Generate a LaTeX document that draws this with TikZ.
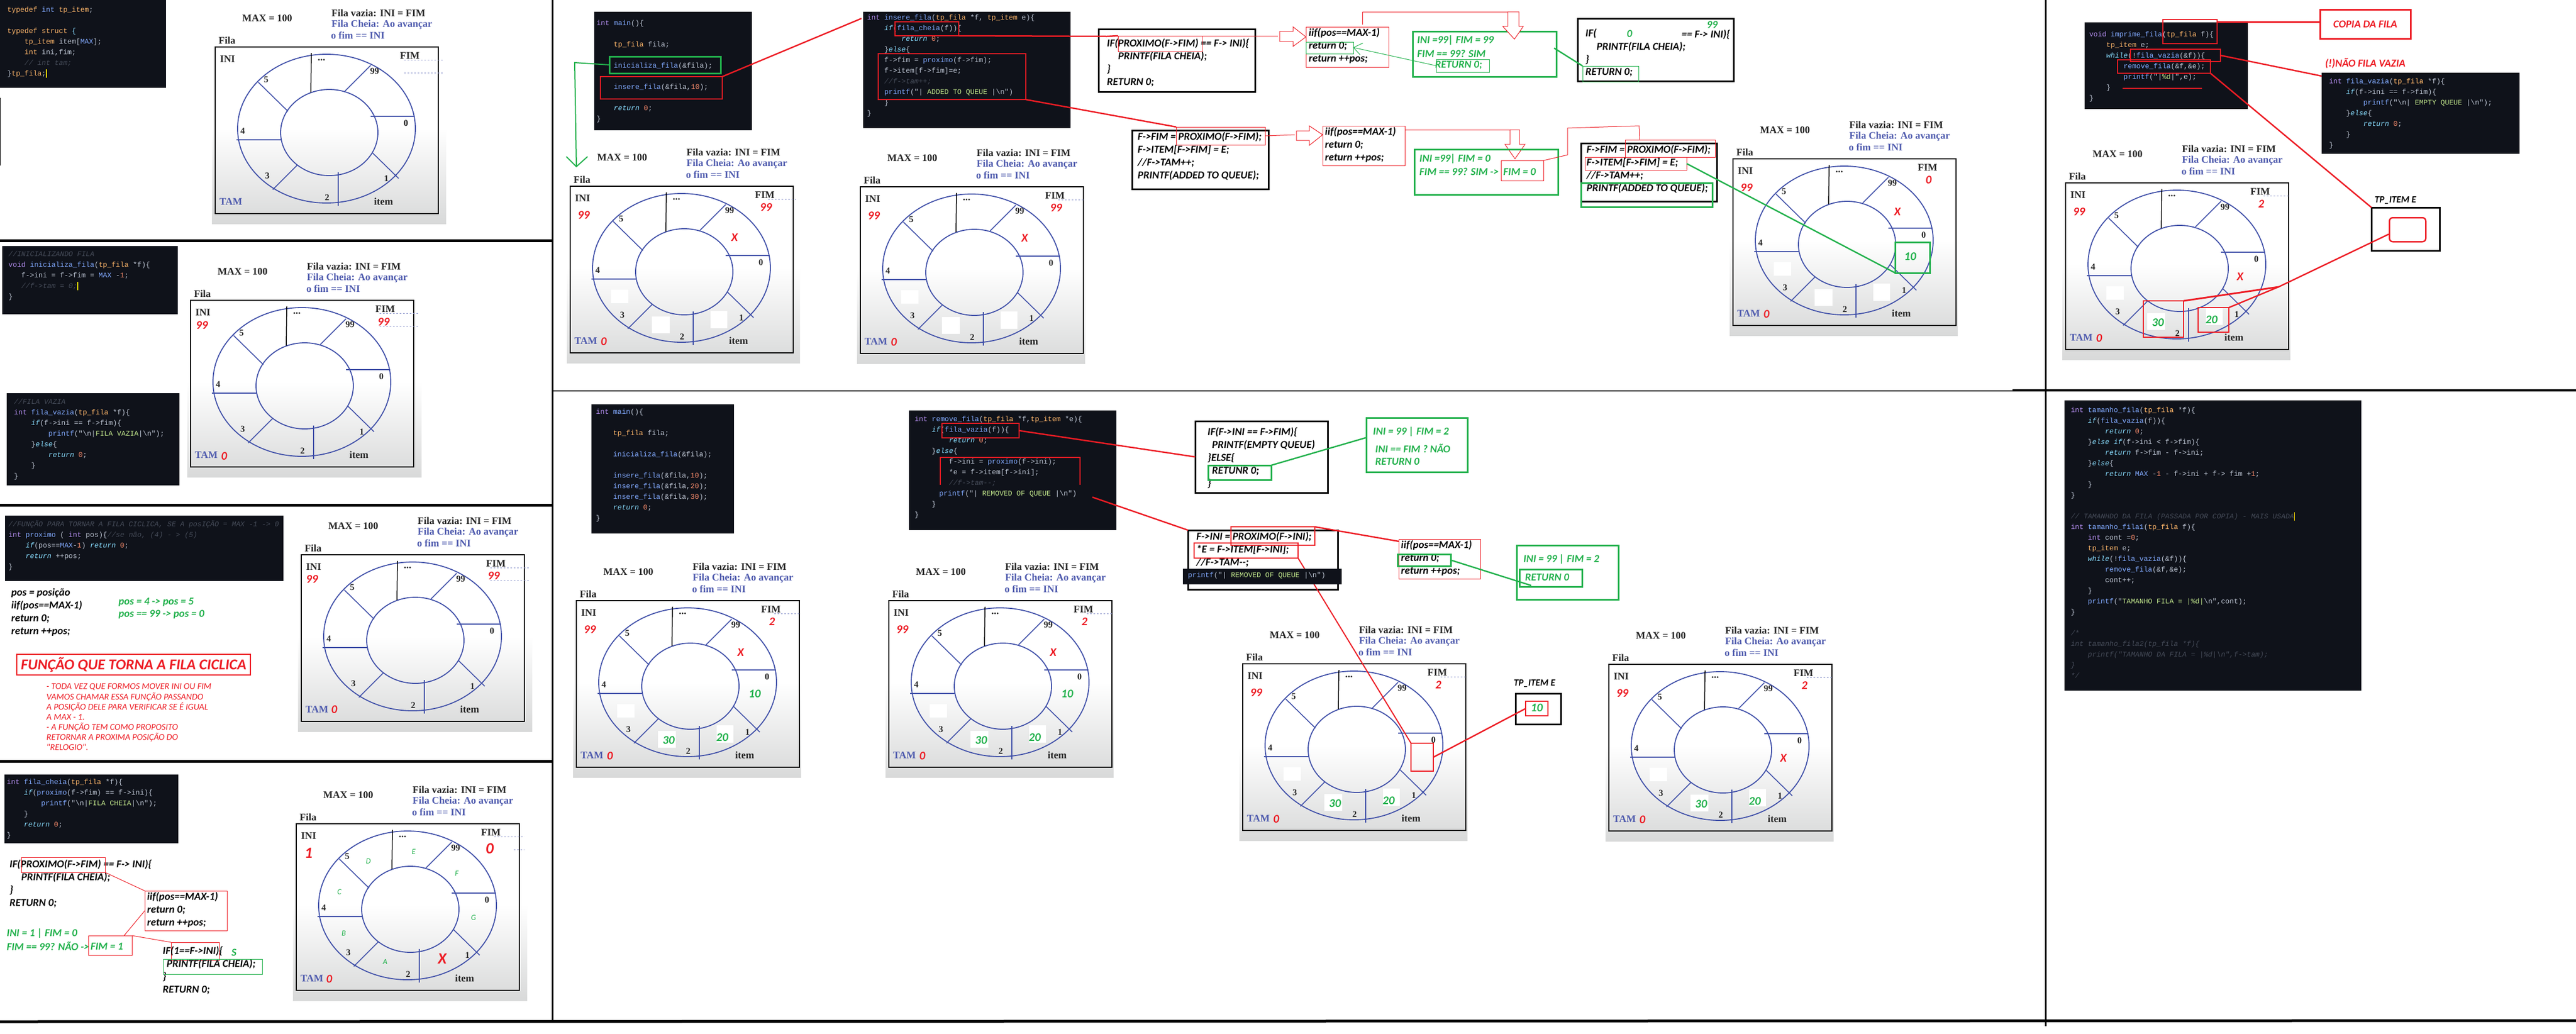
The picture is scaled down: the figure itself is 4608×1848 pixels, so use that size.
\documentclass[tikz,border=0pt]{standalone}
\usepackage{fontspec}
\newfontfamily\cmono{Liberation Mono}
\newfontfamily\calib{Carlito}
\newfontfamily\tims{Liberation Serif}
\usetikzlibrary{calc}

\definecolor{vermelho}{HTML}{ED1C24}
\definecolor{verde}{HTML}{22B14C}
\definecolor{anel}{HTML}{3F4FA8}
\definecolor{azult}{HTML}{4F5BAE}
\definecolor{fundoc}{HTML}{0F121A}
\definecolor{cinzap}{HTML}{D8D9D9}
\definecolor{cplainc}{HTML}{BFC7D5}
\definecolor{ckwc}{HTML}{B48EF0}
\definecolor{ctpc}{HTML}{FFB86B}
\definecolor{cfnc}{HTML}{82AAFF}
\definecolor{cctlc}{HTML}{89DDFF}
\definecolor{cstrc}{HTML}{C3E88D}
\definecolor{cnumc}{HTML}{F78C6C}
\definecolor{ccmtc}{HTML}{454B58}

\newcommand{\ckw}[1]{\textcolor{ckwc}{#1}}
\newcommand{\ctp}[1]{\textcolor{ctpc}{#1}}
\newcommand{\cfn}[1]{\textcolor{cfnc}{#1}}
\newcommand{\cctl}[1]{\textcolor{cctlc}{\itshape #1}}
\newcommand{\cstr}[1]{\textcolor{cstrc}{#1}}
\newcommand{\cnum}[1]{\textcolor{cnumc}{#1}}
\newcommand{\ccmt}[1]{\textcolor{ccmtc}{\itshape #1}}
\newcommand{\ccur}{\textcolor{yellow!80!orange}{\rule[-3pt]{1.5pt}{15pt}}}
\newcommand{\tb}{\hspace*{30.7pt}}

\newcommand{\caixa}[6]{\node[#2, minimum width={#5-#3}, minimum height={#6-#4}] at (#3,#4) (#1) {};}

\newcommand{\fila}[5]{%
	\begin{scope}[shift={(#2,#3)}]
	\shade[top color=white, bottom color=cinzap] (0,215) rectangle (#4,386);
	\node[rot] at (99,19) (#1max) {MAX = 100};
	\node[rot,anchor=west] at (214,9) (#1vazia) {Fila vazia: INI = FIM};
	\node[rot,anchor=west,text=azult] at (214,30) (#1cheia) {Fila Cheia: Ao avançar};
	\node[rot,anchor=west,text=azult] at (213,49) (#1ofim) {o fim == INI};
	\node[rot] at (27,58) (#1nome) {Fila};
	\draw[black,line width=1.6pt] (6,70) rectangle (405,368);
	\draw[anel,line width=1.8pt] (205,216) ellipse [x radius=159, y radius=133];
	\draw[anel,line width=1.8pt] (210,223) ellipse [x radius=87, y radius=77];
	\draw[black,line width=1.5pt] (178,81) -- (177,151);
	\foreach \xa/\ya/\xb/\yb in {284/103/238/149, 284/194/363/194, 287/259/334/305, 226/294/226/354, 153/281/109/325, 44/236/124/236, 83/133/136/185}
		\draw[anel,line width=1.6pt] (\xa,\ya) -- (\xb,\yb);
	\node[rot] at (28,92) (#1ini) {INI};
	\node[rot] at (354,86) (#1fim) {FIM};
	\node[rot,text=azult] at (34,347) (#1tam) {TAM};
	\node[rot] at (307,346) (#1item) {item};
	\node[rot] at (196,93) (#1pontos) {...};
	\foreach \t/\px/\py in {99/291/113, 0/347/206, 1/312/305, 2/206/339, 3/99/300, 4/55/220, 5/97/128}
		\node[rot,font=\tims\bfseries\fontsize{16}{18}\selectfont] at (\px,\py) (#1n\t) {\t};
	#5
	\end{scope}}
\newcommand{\brancos}{%
	\fill[white] (79,255) rectangle (110,279);
	\fill[white] (152,303) rectangle (184,333);
	\fill[white] (257,293) rectangle (287,324);}
\newcommand{\valores}[2]{%
	\node[vr] at (30,122) (#1vi) {99};
	\node[vr] at (66,348) (#1vt) {0};
	\node[vr] at (356,108) (#1vf) {#2};}

\begin{document}
\begin{tikzpicture}[x=1pt, y=-1pt,
rot/.style={font=\tims\bfseries\fontsize{18}{20}\selectfont, inner sep=0, text=black!85},
vr/.style={font=\calib\bfseries\itshape\fontsize{21}{24}\selectfont, inner sep=0, text=vermelho},
vg/.style={font=\calib\bfseries\itshape\fontsize{21}{24}\selectfont, inner sep=0, text=verde},
lg/.style={font=\calib\itshape\fontsize{14}{16}\selectfont, inner sep=0, text=verde},
code/.style={anchor=north west, inner sep=0, fill=fundoc},
ctxt/.style={anchor=north west, inner sep=0, align=left, font=\cmono\fontsize{12.8}{19}\selectfont, text=cplainc},
tx/.style={anchor=north west, inner sep=0, align=left, font=\calib\itshape\bfseries\fontsize{19}{23}\selectfont},
lin/.style={anchor=west, inner sep=0, font=\calib\itshape\bfseries\fontsize{19}{23}\selectfont},
linv/.style={lin, text=verde},
bxp/.style={anchor=north west, inner sep=0, outer sep=0, draw, line width=3pt},
bxr/.style={anchor=north west, inner sep=0, outer sep=0, draw=vermelho, line width=1pt},
bxv/.style={anchor=north west, inner sep=0, outer sep=0, draw=verde, line width=1pt},
brg/.style={anchor=north west, inner sep=0, outer sep=0, draw=vermelho, line width=2.5pt},
bvg/.style={anchor=north west, inner sep=0, outer sep=0, draw=verde, line width=3pt},
fr/.style={draw=vermelho, line width=1pt},
grr/.style={draw=vermelho, line width=2.5pt},
fv/.style={draw=verde, line width=1pt},
gvv/.style={draw=verde, line width=2.5pt},
pontil/.style={line width=0.7pt, dashed, draw=anel!60}]
	\useasboundingbox (0,0) rectangle (4608,1848);
	\fill[white] (0,0) rectangle (4608,1848);

	\fila{pa}{379}{14}{419}{\draw[pontil] (344,93) -- (414,93); \draw[pontil] (344,116) -- (414,116);}
	\fila{pb}{335}{467}{419}{\draw[pontil] (344,93) -- (414,93); \draw[pontil] (344,116) -- (414,116);
		\node[vr] at (26,115) (pbvi) {99}; \node[vr] at (351,109) (pbvf) {99}; \node[vr] at (66,349) (pbvt) {0};}
	\fila{pc}{533}{922}{419}{\draw[pontil] (344,93) -- (414,93); \draw[pontil] (344,116) -- (414,116);
		\node[vr] at (25,114) (pcvi) {99}; \node[vr] at (350,108) (pcvf) {99}; \node[vr] at (65,347) (pcvt) {0};}
	\fila{pd}{524}{1403}{419}{\draw[pontil] (360,93) -- (414,93); \draw[pontil] (395,116) -- (414,116);
		\node[vr,font=\calib\bfseries\itshape\fontsize{28}{30}\selectfont] at (28,122) (pdvi) {1};
		\node[vr,font=\calib\bfseries\itshape\fontsize{28}{30}\selectfont] at (352,114) (pdvf) {0};
		\node[vr] at (65,348) (pdvt) {0};
		\node[vr,font=\calib\bfseries\itshape\fontsize{28}{30}\selectfont] at (267,311) (pdx) {X};
		\foreach \t/\px/\py in {E/216/120, D/135/137, F/293/159, C/83/192, G/323/238, B/91/266, A/165/317}
			\node[lg] at (\px,\py) (pdl\t) {\t};}
	\fila{pe}{1014}{263}{417}{\draw[pontil] (360,93) -- (410,93); \brancos \valores{pe}{99}
		\node[vr] at (300,162) (pex) {X};}
	\fila{pf}{1533}{264}{408}{\draw[pontil] (360,93) -- (405,93); \brancos \valores{pf}{99}
		\node[vr] at (300,162) (pfx) {X};}
	\fila{pg}{3094}{214}{408}{\brancos \valores{pg}{0}
		\node[vr] at (300,165) (pgx) {X};
		\node[vg] at (323,245) (pg10) {10};
		\caixa{pgv}{bvg}{296}{219}{358}{274}}
	\fila{ph}{3689}{257}{408}{\draw[pontil] (360,93) -- (405,93); \brancos \valores{ph}{2}
		\node[vr] at (318,238) (phx) {X};
		\node[vg] at (171,320) (ph30) {30};
		\node[vg] at (267,315) (ph20) {20};}
	\fila{pi}{1025}{1004}{408}{\draw[pontil] (360,93) -- (405,93); \brancos \valores{pi}{2}
		\node[vr] at (300,163) (pix) {X};
		\node[vg] at (325,237) (pi10) {10};
		\node[vg] at (171,320) (pi30) {30};
		\node[vg] at (267,315) (pi20) {20};}
	\fila{pj}{1584}{1004}{408}{\draw[pontil] (360,93) -- (405,93); \brancos \valores{pj}{2}
		\node[vr] at (300,163) (pjx) {X};
		\node[vg] at (325,237) (pj10) {10};
		\node[vg] at (171,320) (pj30) {30};
		\node[vg] at (267,315) (pj20) {20};}
	\fila{pk}{2217}{1117}{408}{\draw[pontil] (360,93) -- (405,93); \brancos \valores{pk}{2}
		\node[vg] at (171,320) (pk30) {30};
		\node[vg] at (267,315) (pk20) {20};}
	\fila{pl}{2872}{1118}{408}{\draw[pontil] (360,93) -- (405,93); \brancos \valores{pl}{2}
		\node[vr] at (318,238) (plx) {X};
		\node[vg] at (171,320) (pl30) {30};
		\node[vg] at (267,315) (pl20) {20};}

	\draw[line width=5pt] (0,430) -- (988,430);
	\draw[line width=5pt] (0,903) -- (988,903);
	\draw[line width=5pt] (0,1361) -- (988,1361);
	\draw[line width=5pt] (0,1827) -- (4608,1825);
	\draw[line width=3pt] (988,0) -- (988,1825);
	\draw[line width=3pt] (3659,0) -- (3659,1835);
	\draw[line width=2pt] (988,699) -- (3659,699);
	\draw[line width=4pt] (3600,698) -- (4608,698);
	\draw[line width=1pt] (0.5,175) -- (0.5,296);

	\caixa{cta}{code}{0}{0}{297}{157}
	\node[ctxt] at (13,8) (ctat) {\strut\ctp{typedef} \cfn{int} \ctp{tp\_item};\\\strut\\
		\ctp{typedef struct} \cctl{\upshape\{}\\
		\tb\ctp{tp\_item} item[\cfn{MAX}];\\
		\tb\ctp{int} ini,fim;\\
		\tb\ccmt{// int tam;}\\
		\}\ctp{tp\_fila};\ccur};
	\caixa{ctb}{code}{4}{440}{318}{562}
	\node[ctxt] at (15,445) (ctbt) {\strut\ccmt{//INICIALIZANDO FILA}\\
		\ckw{void} \cfn{inicializa\_fila}(\ctp{tp\_fila} *f)\{\\
		\hspace*{23pt}f->ini = f->fim = \cfn{MAX} -\cnum{1};\\
		\hspace*{23pt}\ccmt{//f->tam = 0;}\ccur\\
		\}};
	\caixa{ctc}{code}{12}{703}{321}{868}
	\node[ctxt] at (25,709) (ctct) {\strut\ccmt{//FILA VAZIA}\\
		\ckw{int} \cfn{fila\_vazia}(\ctp{tp\_fila} *f)\{\\
		\tb\cctl{if}(f->ini == f->fim)\{\\
		\tb\tb\cfn{printf}("\textbackslash n|\cstr{FILA VAZIA}|\textbackslash n");\\
		\tb\}\cctl{else}\{\\
		\tb\tb\cctl{return} \cnum{0};\\
		\tb\}\\
		\}};
	\caixa{ctd}{code}{9}{922}{507}{1039}
	\node[ctxt] at (15,928) (ctdt) {\strut\ccmt{//FUNÇÃO PARA TORNAR A FILA CICLICA, SE A posIÇÃO = MAX -1 -> 0}\\
		\ckw{int} \cfn{proximo} ( \ckw{int} pos)\{\ccmt{//se não, (4) - > (5)}\\
		\tb\cctl{if}(pos==\cfn{MAX}-\cnum{1}) \cctl{return} \cnum{0};\\
		\tb\cctl{return} ++pos;\\
		\}};
	\caixa{cte}{code}{8}{1385}{319}{1508}
	\node[ctxt] at (12,1389) (ctet) {\strut\ckw{int} \cfn{fila\_cheia}(\ctp{tp\_fila} *f)\{\\
		\tb\cctl{if}(\cfn{proximo}(f->fim) == f->ini)\{\\
		\tb\tb\cfn{printf}("\textbackslash n|\cstr{FILA CHEIA}|\textbackslash n");\\
		\tb\}\\
		\tb\cctl{return} \cnum{0};\\
		\}};
	\caixa{ctf}{code}{1063}{21}{1345}{233}
	\node[ctxt] at (1067,32) (ctft) {\strut\ckw{int} \cfn{main}()\{\\\strut\\
		\tb\ctp{tp\_fila} fila;\\\strut\\
		\tb\cfn{inicializa\_fila}(\&fila);\\\strut\\
		\tb\cfn{insere\_fila}(\&fila,\cnum{10});\\\strut\\
		\tb\cctl{return} \cnum{0};\\
		\}};
	\caixa{ctg}{code}{1544}{21}{1915}{229}
	\node[ctxt] at (1551,22) (ctgt) {\strut\ckw{int} \cfn{insere\_fila}(\ctp{tp\_fila} *f, \ctp{tp\_item} e)\{\\
		\tb\cctl{if}(\cfn{fila\_cheia}(f))\{\\
		\tb\tb\cctl{return} \cnum{0};\\
		\tb\}\cctl{else}\{\\
		\tb f->fim = \cfn{proximo}(f->fim);\\
		\tb f->item[f->fim]=e;\\
		\tb\ccmt{//f->tam++;}\\
		\tb\cfn{printf}("| \cstr{ADDED TO QUEUE} |\textbackslash n")\\
		\tb\}\\
		\}};
	\caixa{cth}{code}{3729}{40}{4021}{195}
	\node[ctxt] at (3737,52) (ctht) {\strut\ckw{void} \cfn{imprime\_fila}(\ctp{tp\_fila} f)\{\\
		\tb\ctp{tp\_item} e;\\
		\tb\cctl{while}(!\cfn{fila\_vazia}(\&f))\{\\
		\tb\tb\cfn{remove\_fila}(\&f,\&e);\\
		\tb\tb\cfn{printf}("|\cstr{\%d}|",e);\\
		\tb\}\\
		\}};
	\caixa{cti}{code}{4153}{130}{4507}{275}
	\node[ctxt] at (4166,136) (ctit) {\strut\ckw{int} \cfn{fila\_vazia}(\ctp{tp\_fila} *f)\{\\
		\tb\cctl{if}(f->ini == f->fim)\{\\
		\tb\tb\cfn{printf}("\textbackslash n| \cstr{EMPTY QUEUE} |\textbackslash n");\\
		\tb\}\cctl{else}\{\\
		\tb\tb\cctl{return} \cnum{0};\\
		\tb\}\\
		\}};
	\caixa{ctj}{code}{1058}{723}{1313}{954}
	\node[ctxt] at (1066,727) (ctjt) {\strut\ckw{int} \cfn{main}()\{\\\strut\\
		\tb\ctp{tp\_fila} fila;\\\strut\\
		\tb\cfn{inicializa\_fila}(\&fila);\\\strut\\
		\tb\cfn{insere\_fila}(\&fila,\cnum{10});\\
		\tb\cfn{insere\_fila}(\&fila,\cnum{20});\\
		\tb\cfn{insere\_fila}(\&fila,\cnum{30});\\
		\tb\cctl{return} \cnum{0};\\
		\}};
	\caixa{ctk}{code}{1626}{734}{1997}{948}
	\node[ctxt] at (1636,740) (ctkt) {\strut\ckw{int} \cfn{remove\_fila}(\ctp{tp\_fila} *f,\ctp{tp\_item} *e)\{\\
		\tb\cctl{if}(\cfn{fila\_vazia}(f))\{\\
		\tb\tb\cctl{return} \cnum{0};\\
		\tb\}\cctl{else}\{\\
		\tb\tb f->ini = \cfn{proximo}(f->ini);\\
		\tb\tb *e = f->item[f->ini];\\
		\tb\tb\ccmt{//f->tam--;}\\
		\hspace*{44pt}\cfn{printf}("| \cstr{REMOVED OF QUEUE} |\textbackslash n")\\
		\tb\}\\
		\}};
	\caixa{ctl}{code}{3693}{716}{4224}{1235}
	\node[ctxt] at (3704,724) (ctlt) {\strut\ckw{int} \cfn{tamanho\_fila}(\ctp{tp\_fila} *f)\{\\
		\tb\cctl{if}(\cfn{fila\_vazia}(f))\{\\
		\tb\tb\cctl{return} \cnum{0};\\
		\tb\}\cctl{else if}(f->ini < f->fim)\{\\
		\tb\tb\cctl{return} f->fim - f->ini;\\
		\tb\}\cctl{else}\{\\
		\tb\tb\cctl{return} \cfn{MAX} -\cnum{1} - f->ini + f-> fim +\cnum{1};\\
		\tb\}\\
		\}\\\strut\\
		\ccmt{// TAMANHDO DA FILA (PASSADA POR COPIA) - MAIS USADA}\ccur\\
		\ckw{int} \cfn{tamanho\_fila1}(\ctp{tp\_fila} f)\{\\
		\tb\ckw{int} cont =\cnum{0};\\
		\tb\ctp{tp\_item} e;\\
		\tb\cctl{while}(!\cfn{fila\_vazia}(\&f))\{\\
		\tb\tb\cfn{remove\_fila}(\&f,\&e);\\
		\tb\tb cont++;\\
		\tb\}\\
		\tb\cfn{printf}("\cstr{TAMANHO FILA = |\%d|}\textbackslash n",cont);\\
		\}\\\strut\\
		\ccmt{/*}\\
		\ccmt{int tamanho\_fila2(tp\_fila *f)\{}\\
		\tb\ccmt{printf("TAMANHO DA FILA = |\%d|\textbackslash n",f->tam);}\\
		\ccmt{\}}\\
		\ccmt{*/}};

	\node[lin,anchor=north west,align=left] at (20,1049) (posa) {\strut pos = posição\\iif(pos==MAX-1)\\return 0;\\return ++pos;};
	\node[linv] at (212,1077) (posb) {pos = 4 -> pos = 5};
	\node[linv] at (212,1099) (posc) {pos == 99 -> pos = 0};
	\caixa{torna}{brg}{30}{1170}{448}{1207}
	\node[inner sep=0,text=vermelho,font=\calib\itshape\bfseries\fontsize{27}{30}\selectfont] at (torna) (tornat) {FUNÇÃO QUE TORNA A FILA CICLICA};
	\node[inner sep=0,anchor=north west,align=left,text=vermelho,font=\calib\itshape\fontsize{16}{18}\selectfont] at (83,1220) (notas) {\strut- TODA VEZ QUE FORMOS MOVER INI OU FIM\\
		VAMOS CHAMAR ESSA FUNÇÃO PASSANDO\\
		A POSIÇÃO DELE PARA VERIFICAR SE É IGUAL\\
		A MAX - 1.\\
		- A FUNÇÃO TEM COMO PROPOSITO\\
		RETORNAR  A PROXIMA POSIÇÃO DO\\
		"RELOGIO".};

	\node[tx] at (17,1535) (cheiat) {\strut IF(PROXIMO(F->FIM) == F-> INI)\{\\
		\hspace*{21pt}PRINTF(FILA CHEIA);\\
		\}\\
		RETURN 0;};
	\caixa{cheiar}{bxr}{38}{1533}{188}{1560}
	\caixa{cheiap}{bxr}{259}{1593}{406}{1664}
	\node[tx] at (263,1593) (cheiapt) {\strut iif(pos==MAX-1)\\return 0;\\return ++pos;};
	\draw[fr] (cheiar.south east) -- (cheiap.north west);
	\node[linv] at (12,1669) (cheiau) {INI = 1 | FIM = 0};
	\node[linv] at (12,1692) (cheiad) {FIM == 99? NÃO ->};
	\caixa{cheiaf}{bxr}{158}{1673}{236}{1708}
	\node[linv] at (162,1692) (cheiaft) {FIM = 1};
	\draw[fr] (cheiap.west) -- ([xshift=64pt]cheiaf.north west);
	\caixa{cheiai}{bxr}{306}{1685}{392}{1717}
	\draw[fr] (cheiaf.north east) -- (cheiai.north west);
	\node[tx] at (291,1690) (cheiab) {\strut IF(1==F->INI)\{\\
		\hspace*{7pt}PRINTF(FILA CHEIA);\\
		\}\\
		RETURN 0;};
	\node[linv] at (414,1703) (cheias) {S};
	\caixa{cheiav}{bxv}{292}{1715}{469}{1742}

	\caixa{ctfv}{bvg}{1090}{101}{1289}{131}
	\caixa{ctfr}{brg}{1074}{137}{1292}{177}
	\coordinate (setav) at (1031,298);
	\draw[gvv,line width=2pt] (ctfv.west) -- (1028,112) -- (setav);
	\draw[gvv,line width=2pt] (1013,280) -- (setav) -- (1051,280);
	\coordinate (ctgl) at (1541,33);
	\draw[grr] (ctfr.north east) -- (ctgl);
	\caixa{ctga}{brg}{1601}{39}{1715}{64}
	\caixa{ctgb}{brg}{1571}{96}{1835}{178}

	\caixa{ba}{bxp}{1965}{52}{2245}{164}
	\node[tx] at (1980,67) (bat) {\strut IF(PROXIMO(F->FIM) == F-> INI)\{\\
		\hspace*{20pt}PRINTF(FILA CHEIA);\\
		\}\\
		RETURN 0;};
	\caixa{bar}{bxr}{2000}{64}{2150}{92}
	\draw[grr] (ctga.south east) -- (1980,65) -- (bar.north west);
	\coordinate (setaa) at (2286,64);
	\draw[fr] (bar.north east) -- (setaa);
	\caixa{bb}{bxr}{2336}{48}{2484}{120}
	\draw[fr,fill=white] (2289,56) -- (2313,56) -- (2313,48) -- (2336,66) -- (2313,83) -- (2313,74) -- (2289,74) -- cycle;
	\node[tx] at (2341,48) (bbt) {\strut iif(pos==MAX-1)\\return 0;\\return ++pos;};
	\caixa{bbv}{bxv}{2336}{75}{2421}{96}
	\caixa{bc}{bvg}{2527}{56}{2784}{137}
	\node[linv] at (2535,72) (bcu) {INI =99| FIM =  99};
	\node[linv] at (2535,96) (bcd) {FIM == 99?  SIM};
	\caixa{bcv}{bxv}{2569}{106}{2664}{129}
	\node[linv] at (2567,117) (bcr) {RETURN 0;};
	\draw[fv] (bcv.west) -- ([yshift=-10pt]bbv.north east);
	\draw[fv] (2438,77) -- ([yshift=-10pt]bbv.north east) -- (2433,98);
	\draw[fr] (2437,44) -- (2437,21) -- (2717,21);
	\draw[fr,fill=white] (2697,21) -- (2717,21) -- (2717,47) -- (2725,47) -- (2709,70) -- (2688,47) -- (2697,47) -- cycle;

	\caixa{bd}{bxp}{2822}{33}{3101}{145}
	\node[lin] at (2836,60) (bdi) {IF(};
	\node[linv] at (2910,60) (bdz) {0};
	\node[linv] at (3053,44) (bdn) {99};
	\node[lin] at (3008,62) (bde) {== F-> INI)\{};
	\node[lin] at (2856,84) (bdp) {PRINTF(FILA CHEIA);};
	\node[lin] at (2836,107) (bdc) {\}};
	\node[lin] at (2836,130) (bdr) {RETURN 0;};
	\caixa{bdv}{bxv}{2831}{118}{2931}{146}
	\draw[gvv] (2780,86) -- (bdv.north west);

	\caixa{be}{bxp}{2025}{233}{2269}{338}
	\node[tx] at (2035,234) (bet) {\strut F->FIM = PROXIMO(F->FIM);\\
		F->ITEM[F->FIM] = E;\\
		//F->TAM++;\\
		PRINTF(ADDED TO QUEUE);};
	\caixa{ber}{bxr}{2104}{227}{2263}{259}
	\draw[grr] (ctgb.south east) -- (ber.north west);
	\coordinate (setab) at (2316,241);
	\draw[fr] (ber.east) -- (setab);
	\caixa{bf}{bxr}{2366}{225}{2513}{296}
	\draw[fr,fill=white] (2319,234) -- (2342,234) -- (2342,225) -- (2366,241) -- (2342,260) -- (2342,251) -- (2319,251) -- cycle;
	\node[tx] at (2370,225) (bft) {\strut iif(pos==MAX-1)\\return 0;\\return ++pos;};
	\draw[fr] ([yshift=-7pt]bf.north east) -- (2718,232);
	\draw[fr,fill=white] (2701,232) -- (2718,232) -- (2718,258) -- (2728,258) -- (2710,284) -- (2692,258) -- (2701,258) -- cycle;
	\caixa{bg}{bvg}{2530}{267}{2787}{348}
	\node[linv] at (2539,284) (bgu) {INI =99| FIM = 0};
	\node[linv] at (2539,307) (bgd) {FIM == 99? SIM  ->};
	\caixa{bgr}{bxr}{2685}{287}{2761}{323}
	\node[linv] at (2689,307) (bgf) {FIM = 0};

	\caixa{bh}{bxp}{2828}{256}{3071}{360}
	\node[tx] at (2838,257) (bht) {\strut F->FIM = PROXIMO(F->FIM);\\
		F->ITEM[F->FIM] = E;\\
		//F->TAM++;\\
		PRINTF(ADDED TO QUEUE);};
	\caixa{bha}{bxr}{2907}{250}{3068}{281}
	\caixa{bhb}{bxr}{2835}{281}{3017}{304}
	\caixa{bhv}{bvg}{2828}{327}{3063}{370}
	\draw[fr] (bgr.north east) -- (2804,277) -- (2804,229) -- (2932,225) -- ([xshift=26pt]bha.north west);
	\draw[gvv] (bhb.east) -- (pgv.south west);

	\caixa{bi}{bxp}{2138}{753}{2375}{881}
	\node[tx] at (2160,762) (bit) {\strut IF(F->INI == F->FIM)\{\\
		\hspace*{8pt}PRINTF(EMPTY QUEUE)\\
		\}ELSE\{\\
		\hspace*{8pt}RETUNR 0;\\
		\}};
	\caixa{biv}{bvg}{2161}{832}{2274}{858}
	\caixa{ctkb}{brg}{1685}{757}{1823}{783}
	\draw[grr] (1682,867) -- (1682,818) -- (1932,818) -- (1932,867);
	\draw[grr] (ctkb.east) -- (bi.west);
	\caixa{bj}{bvg}{2444}{747}{2625}{844}
	\node[linv] at (2456,772) (bju) {INI = 99  | FIM = 2};
	\node[linv] at (2460,802) (bjd) {INI == FIM ? NÃO};
	\node[linv] at (2460,825) (bjr) {RETURN 0};
	\draw[gvv] (biv.north east) -- ([yshift=13pt]bj.west);

	\caixa{bk}{bxp}{2125}{948}{2393}{1054}
	\node[tx] at (2140,949) (bkt) {\strut F->INI = PROXIMO(F->INI);\\
		*E = F->ITEM[F->INI];\\
		//F->TAM--;};
	\caixa{bka}{brg}{2202}{942}{2352}{975}
	\caixa{bkb}{brg}{2136}{971}{2322}{998}
	\coordinate (ctks) at (1954,889);
	\draw[grr] (ctks) -- (bk.north west);
	\caixa{itemk}{brg}{2524}{1329}{2564}{1379}
	\draw[grr,line width=2pt] (bkb.south east) -- (itemk.north west);
	\caixa{ctm}{code}{2116}{1017}{2400}{1045}
	\node[ctxt,anchor=west] at (2125,1029) (ctmt) {\cfn{printf}("| \cstr{REMOVED OF QUEUE} |\textbackslash n")};
	\caixa{bl}{bxr}{2502}{964}{2648}{1035}
	\node[tx] at (2506,964) (blt) {\strut iif(pos==MAX-1)\\return 0;\\return ++pos;};
	\draw[grr] (bka.north east) -- ([yshift=-4pt]bl.north west);
	\caixa{blv}{bvg}{2500}{991}{2595}{1012}
	\caixa{bm}{bvg}{2713}{975}{2895}{1072}
	\node[linv] at (2725,1000) (bmu) {INI = 99  | FIM = 2};
	\caixa{bmv}{bvg}{2718}{1018}{2830}{1049}
	\node[linv] at (2728,1032) (bmr) {RETURN 0};
	\draw[gvv] (blv.east) -- (2739,1047);
	\node[inner sep=0,font=\calib\itshape\bfseries\fontsize{17}{20}\selectfont] at (2745,1222) (itemt) {TP\_ITEM E};
	\caixa{itemb}{bxp}{2711}{1240}{2792}{1295}
	\caixa{itemr}{brg}{2729}{1254}{2769}{1280}
	\node[vg] at (2749,1266) (item10) {10};
	\draw[grr] (itemk.east) -- (itemr.west);

	\caixa{cthf}{brg}{3869}{35}{3966}{78}
	\caixa{copia}{brg,line width=3pt}{4150}{17}{4312}{69}
	\node[inner sep=0,text=vermelho,font=\calib\itshape\bfseries\fontsize{19}{22}\selectfont] at (copia) (copiat) {COPIA DA FILA};
	\draw[grr,line width=3pt] ([yshift=-4pt]cthf.north east) -- ([yshift=-22pt]copia.north west);
	\caixa{cthv}{brg}{3811}{88}{3972}{110}
	\caixa{cthr}{brg}{3788}{107}{3954}{131}
	\node[inner sep=0,text=vermelho,font=\calib\itshape\bfseries\fontsize{19}{22}\selectfont] at (4231,113) (naot) {(!)NÃO FILA VAZIA};
	\draw[grr] (cthv.east) -- ([yshift=-6pt]cti.north west);
	\draw[grr] (3797,158) -- (3939,158);
	\node[inner sep=0,font=\calib\itshape\bfseries\fontsize{17}{20}\selectfont] at (4285,358) (itemu) {TP\_ITEM E};
	\caixa{itemc}{bxp}{4242}{371}{4364}{448}
	\node[anchor=north west,inner sep=0,minimum width=65pt,minimum height=43pt,draw=vermelho,line width=2.5pt,rounded corners=6pt] at (4273,388) (itemd) {};
	\draw[grr] (cthr.south east) -- (itemc.north west);
	\caixa{rem30}{brg}{3834}{538}{3906}{603}
	\caixa{rem20}{brg}{3932}{550}{3987}{594}
	\coordinate (remj) at (4076,513);
	\draw[grr] ([yshift=-8pt]itemd.west) -- (remj) -- (rem20.north east);
	\draw[grr,line width=3pt] (remj) -- (rem30.north east);
\end{tikzpicture}
\end{document}
